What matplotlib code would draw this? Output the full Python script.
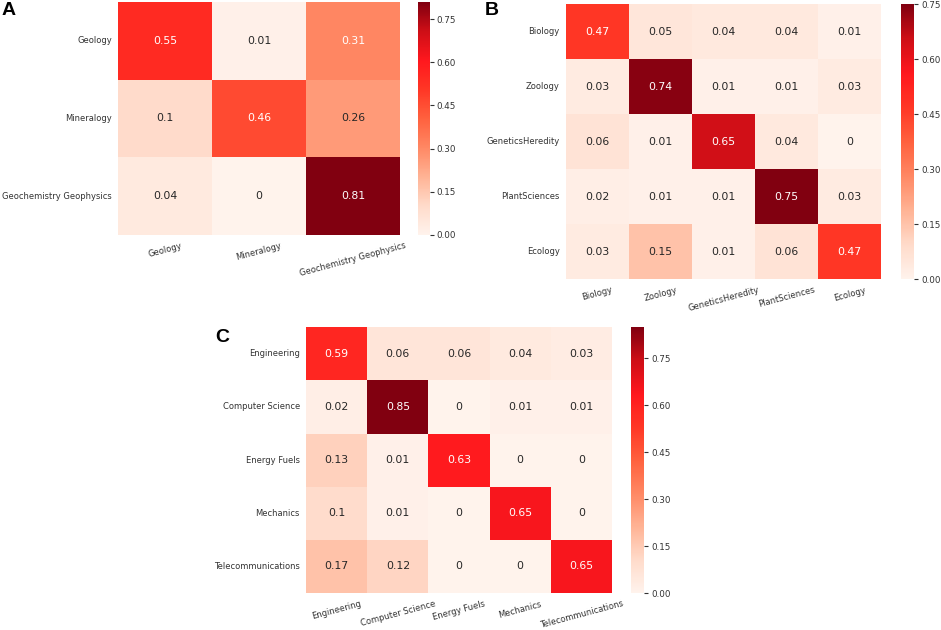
import numpy as np
import matplotlib
matplotlib.use("Agg")
from matplotlib import pyplot as plt
from matplotlib.ticker import MultipleLocator, FormatStrFormatter
from matplotlib.colors import ListedColormap, rgb_to_hsv, hsv_to_rgb
import seaborn as sns

# panel A
labels_a = ["Geology", "Mineralogy", "Geochemistry Geophysics"]
vals_a = [[0.55, 0.01, 0.31],
          [0.10, 0.46, 0.26],
          [0.04, 0.00, 0.81]]

# panel B
labels_b = ["Biology", "Zoology", "GeneticsHeredity", "PlantSciences", "Ecology"]
vals_b = [[0.47, 0.05, 0.04, 0.04, 0.01],
          [0.03, 0.74, 0.01, 0.01, 0.03],
          [0.06, 0.01, 0.65, 0.04, 0.00],
          [0.02, 0.01, 0.01, 0.75, 0.03],
          [0.03, 0.15, 0.01, 0.06, 0.47]]

# panel C
labels_c = ["Engineering", "Computer Science", "Energy Fuels", "Mechanics", "Telecommunications"]
vals_c = [[0.59, 0.06, 0.06, 0.04, 0.03],
          [0.02, 0.85, 0.00, 0.01, 0.01],
          [0.13, 0.01, 0.63, 0.00, 0.00],
          [0.10, 0.01, 0.00, 0.65, 0.00],
          [0.17, 0.12, 0.00, 0.00, 0.65]]

# the reference looks like a brighter, more saturated "Reds"
base = plt.get_cmap("Reds")(np.linspace(0, 1, 256))[:, :3]
hsv = rgb_to_hsv(base)
hsv[:, 1] = hsv[:, 1] + 0.25 * hsv[:, 1] * (1 - hsv[:, 1])
hsv[:, 2] = np.minimum(1.0, hsv[:, 2] * 1.25)
reds = ListedColormap(hsv_to_rgb(hsv))

fig = plt.figure(figsize=(9.41, 6.3), dpi=100)

def panel(vals, labels, ax_rect, cb_rect, letter, letter_xy):
    ax = fig.add_axes(ax_rect)
    cax = fig.add_axes(cb_rect)
    sns.heatmap(np.array(vals), ax=ax, cbar_ax=cax, cmap=reds, annot=True,
                fmt="g", annot_kws={"fontsize": 7.8},
                xticklabels=labels, yticklabels=labels)
    ax.tick_params(axis="both", length=0, labelsize=6.0, labelcolor="#333333", pad=4.5)
    plt.setp(ax.get_xticklabels(), rotation=15)
    plt.setp(ax.get_yticklabels(), rotation=0)
    cax.yaxis.set_major_locator(MultipleLocator(0.15))
    cax.yaxis.set_major_formatter(FormatStrFormatter("%.2f"))
    cax.tick_params(labelsize=6.3, labelcolor="#333333", length=3, pad=2,
                    color="#333333")
    fig.text(letter_xy[0], letter_xy[1], letter, fontsize=14, fontweight="bold",
             family="Liberation Sans", va="top")

panel(vals_a, labels_a, [0.1254, 0.627, 0.2997, 0.370], [0.444, 0.627, 0.0128, 0.370], "A", (0.002, 0.997))
panel(vals_b, labels_b, [0.6015, 0.557, 0.3348, 0.4365], [0.9575, 0.557, 0.0138, 0.4365], "B", (0.515, 0.997))
panel(vals_c, labels_c, [0.3252, 0.0587, 0.3252, 0.422], [0.6706, 0.0587, 0.0138, 0.422], "C", (0.229, 0.477))

fig.savefig("out.png", dpi=100)
